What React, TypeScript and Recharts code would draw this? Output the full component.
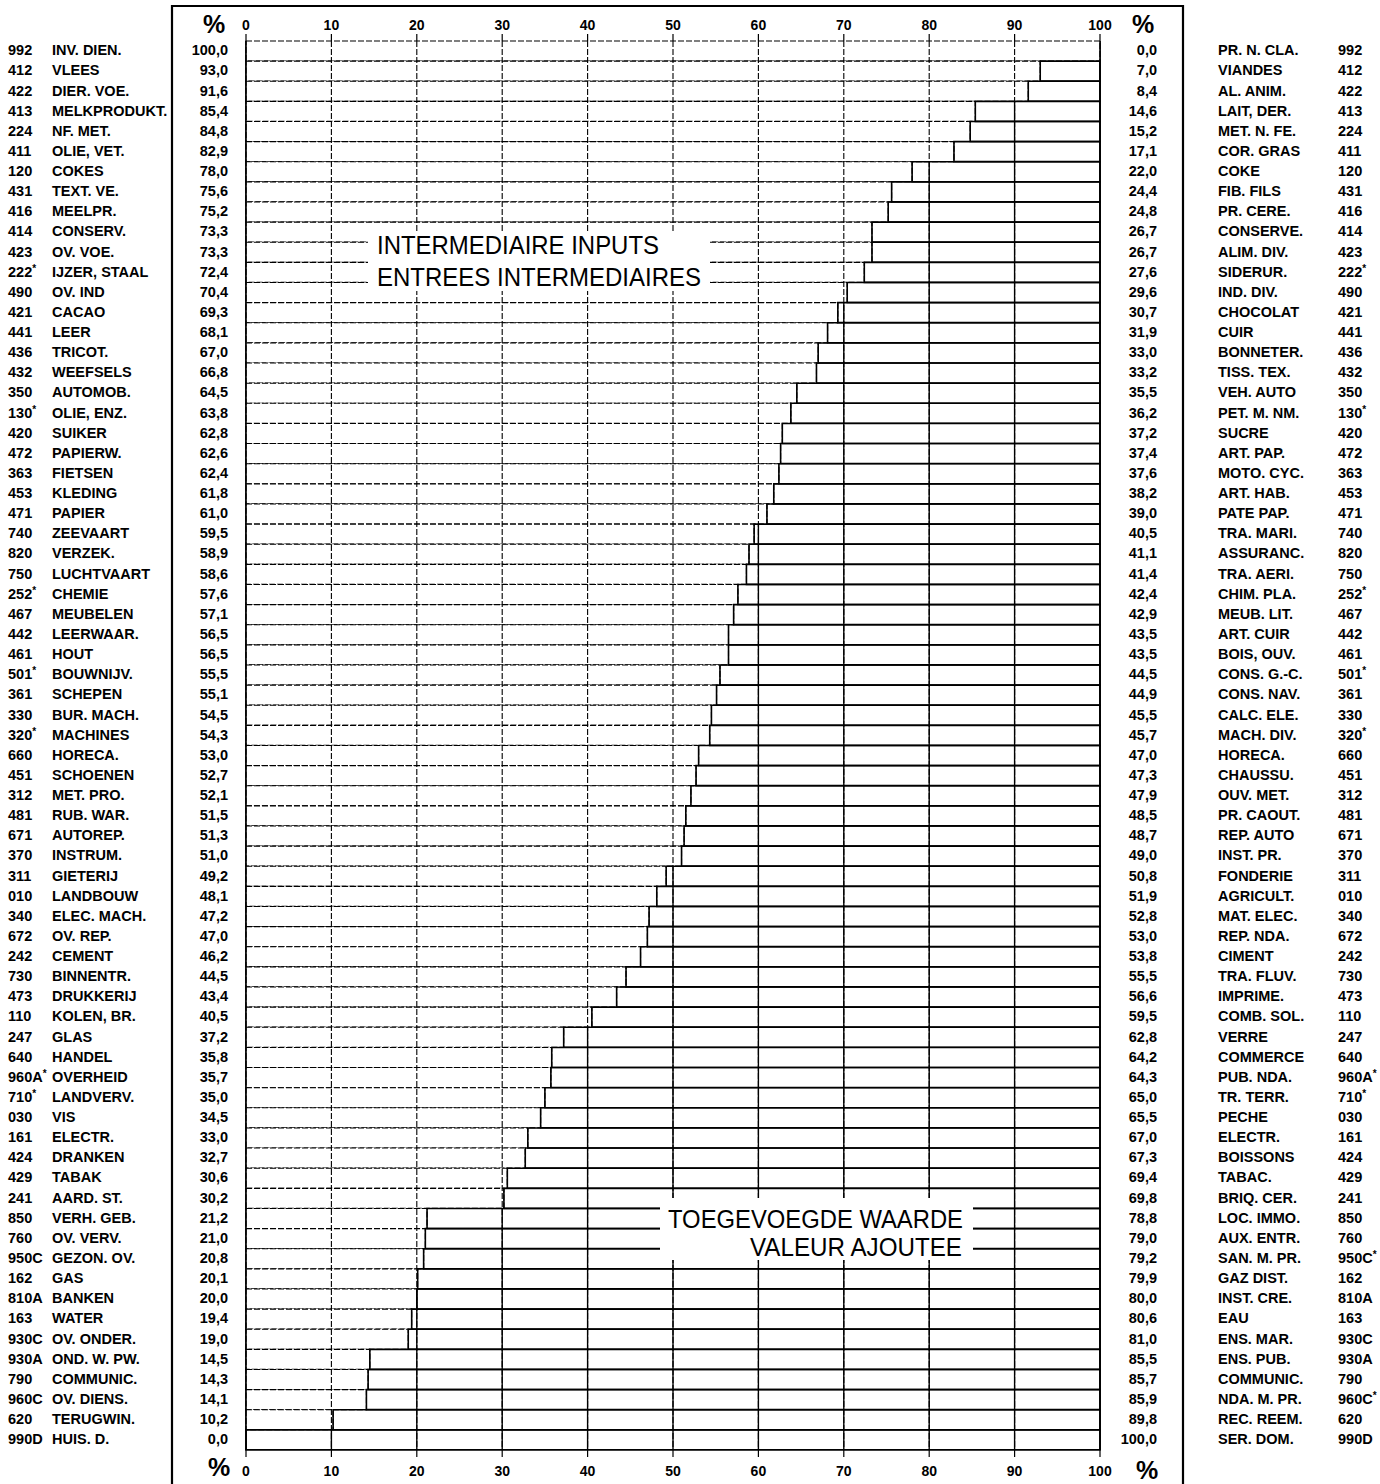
import React from 'react';
import { ComposedChart, Bar, Line, XAxis, YAxis, CartesianGrid, ReferenceLine } from 'recharts';

const leftCodes = ["992","412","422","413","224","411","120","431","416","414","423","222*","490","421","441","436","432","350","130*","420","472","363","453","471","740","820","750","252*","467","442","461","501*","361","330","320*","660","451","312","481","671","370","311","010","340","672","242","730","473","110","247","640","960A*","710*","030","161","424","429","241","850","760","950C","162","810A","163","930C","930A","790","960C","620","990D"];

const rightCodes = ["992","412","422","413","224","411","120","431","416","414","423","222*","490","421","441","436","432","350","130*","420","472","363","453","471","740","820","750","252*","467","442","461","501*","361","330","320*","660","451","312","481","671","370","311","010","340","672","242","730","473","110","247","640","960A*","710*","030","161","424","429","241","850","760","950C*","162","810A","163","930C","930A","790","960C*","620","990D"];

const dutchNames = ["INV. DIEN.","VLEES","DIER. VOE.","MELKPRODUKT.","NF. MET.","OLIE, VET.","COKES","TEXT. VE.","MEELPR.","CONSERV.","OV. VOE.","IJZER, STAAL","OV. IND","CACAO","LEER","TRICOT.","WEEFSELS","AUTOMOB.","OLIE, ENZ.","SUIKER","PAPIERW.","FIETSEN","KLEDING","PAPIER","ZEEVAART","VERZEK.","LUCHTVAART","CHEMIE","MEUBELEN","LEERWAAR.","HOUT","BOUWNIJV.","SCHEPEN","BUR. MACH.","MACHINES","HORECA.","SCHOENEN","MET. PRO.","RUB. WAR.","AUTOREP.","INSTRUM.","GIETERIJ","LANDBOUW","ELEC. MACH.","OV. REP.","CEMENT","BINNENTR.","DRUKKERIJ","KOLEN, BR.","GLAS","HANDEL","OVERHEID","LANDVERV.","VIS","ELECTR.","DRANKEN","TABAK","AARD. ST.","VERH. GEB.","OV. VERV.","GEZON. OV.","GAS","BANKEN","WATER","OV. ONDER.","OND. W. PW.","COMMUNIC.","OV. DIENS.","TERUGWIN.","HUIS. D."];

const frenchNames = ["PR. N. CLA.","VIANDES","AL. ANIM.","LAIT, DER.","MET. N. FE.","COR. GRAS","COKE","FIB. FILS","PR. CERE.","CONSERVE.","ALIM. DIV.","SIDERUR.","IND. DIV.","CHOCOLAT","CUIR","BONNETER.","TISS. TEX.","VEH. AUTO","PET. M. NM.","SUCRE","ART. PAP.","MOTO. CYC.","ART. HAB.","PATE PAP.","TRA. MARI.","ASSURANC.","TRA. AERI.","CHIM. PLA.","MEUB. LIT.","ART. CUIR","BOIS, OUV.","CONS. G.-C.","CONS. NAV.","CALC. ELE.","MACH. DIV.","HORECA.","CHAUSSU.","OUV. MET.","PR. CAOUT.","REP. AUTO","INST. PR.","FONDERIE","AGRICULT.","MAT. ELEC.","REP. NDA.","CIMENT","TRA. FLUV.","IMPRIME.","COMB. SOL.","VERRE","COMMERCE","PUB. NDA.","TR. TERR.","PECHE","ELECTR.","BOISSONS","TABAC.","BRIQ. CER.","LOC. IMMO.","AUX. ENTR.","SAN. M. PR.","GAZ DIST.","INST. CRE.","EAU","ENS. MAR.","ENS. PUB.","COMMUNIC.","NDA. M. PR.","REC. REEM.","SER. DOM."];

const inputShares = [100.0,93.0,91.6,85.4,84.8,82.9,78.0,75.6,75.2,73.3,73.3,72.4,70.4,69.3,68.1,67.0,66.8,64.5,63.8,62.8,62.6,62.4,61.8,61.0,59.5,58.9,58.6,57.6,57.1,56.5,56.5,55.5,55.1,54.5,54.3,53.0,52.7,52.1,51.5,51.3,51.0,49.2,48.1,47.2,47.0,46.2,44.5,43.4,40.5,37.2,35.8,35.7,35.0,34.5,33.0,32.7,30.6,30.2,21.2,21.0,20.8,20.1,20.0,19.4,19.0,14.5,14.3,14.1,10.2,0.0];

const addedShares = [0.0,7.0,8.4,14.6,15.2,17.1,22.0,24.4,24.8,26.7,26.7,27.6,29.6,30.7,31.9,33.0,33.2,35.5,36.2,37.2,37.4,37.6,38.2,39.0,40.5,41.1,41.4,42.4,42.9,43.5,43.5,44.5,44.9,45.5,45.7,47.0,47.3,47.9,48.5,48.7,49.0,50.8,51.9,52.8,53.0,53.8,55.5,56.6,59.5,62.8,64.2,64.3,65.0,65.5,67.0,67.3,69.4,69.8,78.8,79.0,79.2,79.9,80.0,80.6,81.0,85.5,85.7,85.9,89.8,100.0];

const xTicks = [0, 10, 20, 30, 40, 50, 60, 70, 80, 90, 100];
const innerGrid = [10, 20, 30, 40, 50, 60, 70, 80, 90];

const data = inputShares.map((v, i) => ({ idx: i, inputs: v, added: addedShares[i] }));

const FONT = '"Liberation Sans", Arial, Helvetica, sans-serif';
const fmt = (v: number) => v.toFixed(1).replace('.', ',');

function Code({ x, y, code }: { x: number; y: number; code: string }) {
  const star = code.endsWith('*');
  const base = star ? code.slice(0, -1) : code;
  return (
    <text x={x} y={y} dy="0.36em" fill="#000">
      {base}
      {star ? <tspan dy={-5} fontSize={10}>*</tspan> : null}
    </text>
  );
}

function RowTick(props: any) {
  const { y, payload } = props;
  const i = Number(payload.value);
  const yy = y - 1;
  return (
    <g fontFamily={FONT} fontWeight="bold" fontSize={14.5}>
      <Code x={8} y={yy} code={leftCodes[i]} />
      <text x={52} y={yy} dy="0.36em" fill="#000">{dutchNames[i]}</text>
      <text x={228} y={yy} dy="0.36em" fill="#000" textAnchor="end">{fmt(inputShares[i])}</text>
      <text x={1157} y={yy} dy="0.36em" fill="#000" textAnchor="end">{fmt(addedShares[i])}</text>
      <text x={1218} y={yy} dy="0.36em" fill="#000">{frenchNames[i]}</text>
      <Code x={1338} y={yy} code={rightCodes[i]} />
    </g>
  );
}

const tickStyle = { fontSize: 14, fontWeight: 'bold', fill: '#000', fontFamily: FONT };

export default function App() {
  return (
    <div style={{ position: 'absolute', left: 0, top: 0, width: 1380, height: 1484, background: '#fff' }}>
      <ComposedChart
        width={1380}
        height={1484}
        data={data}
        layout="vertical"
        margin={{ top: 40, right: 280, bottom: 33, left: 245 }}
        barCategoryGap={0}
        barGap={0}
      >
        <CartesianGrid xAxisId="top" horizontal={false} vertical stroke="#000" strokeWidth={1.4} />
        <XAxis
          xAxisId="top"
          orientation="top"
          type="number"
          domain={[0, 100]}
          ticks={xTicks}
          interval={0}
          height={1}
          tickSize={7}
          tickMargin={4}
          axisLine={false}
          tickLine={{ stroke: '#000', strokeWidth: 1.2 }}
          tick={tickStyle}
        />
        <XAxis
          xAxisId="bottom"
          orientation="bottom"
          type="number"
          domain={[0, 100]}
          ticks={xTicks}
          interval={0}
          height={1}
          tickSize={7}
          tickMargin={9}
          axisLine={false}
          tickLine={{ stroke: '#000', strokeWidth: 1.2 }}
          tick={tickStyle}
        />
        <YAxis
          type="category"
          dataKey="idx"
          width={1}
          interval={0}
          axisLine={false}
          tickLine={false}
          tick={<RowTick />}
        />
        <Bar
          xAxisId="top"
          dataKey="inputs"
          stackId="s"
          fill="#fff"
          stroke="#000"
          strokeWidth={1.1}
          strokeDasharray="6 2"
          isAnimationActive={false}
        />
        <Bar
          xAxisId="top"
          dataKey="added"
          stackId="s"
          fill="none"
          stroke="#000"
          strokeWidth={1.6}
          isAnimationActive={false}
        />
        <Line
          xAxisId="bottom"
          dataKey="inputs"
          stroke="none"
          strokeOpacity={0}
          dot={false}
          activeDot={false}
          legendType="none"
          isAnimationActive={false}
        />
        {innerGrid.map((t) => (
          <ReferenceLine key={t} xAxisId="top" x={t} stroke="#000" strokeWidth={1.1} strokeDasharray="6 2" />
        ))}
        <ReferenceLine xAxisId="top" x={0} stroke="#000" strokeWidth={1.6} />
        <ReferenceLine xAxisId="top" x={100} stroke="#000" strokeWidth={1.6} />
      </ComposedChart>
      <svg
        width={1380}
        height={1484}
        style={{ position: 'absolute', left: 0, top: 0, pointerEvents: 'none' }}
      >
        <line x1={172} y1={5} x2={172} y2={1484} stroke="#000" strokeWidth={2.2} />
        <line x1={1183} y1={5} x2={1183} y2={1484} stroke="#000" strokeWidth={2.2} />
        <line x1={171} y1={6} x2={1184} y2={6} stroke="#000" strokeWidth={2} />
        <g fontFamily={FONT} fontWeight="bold" fontSize={25} fill="#000">
          <text x={203} y={33}>%</text>
          <text x={1132} y={33}>%</text>
          <text x={208} y={1476}>%</text>
          <text x={1136} y={1479}>%</text>
        </g>
        <rect x={368} y={231} width={342} height={60} fill="#fff" />
        <rect x={660} y={1198} width={313} height={62} fill="#fff" />
        <g fontFamily={FONT} fontSize={25} fill="#000">
          <text x={377} y={254} textLength={282} lengthAdjust="spacingAndGlyphs">INTERMEDIAIRE INPUTS</text>
          <text x={377} y={286} textLength={324} lengthAdjust="spacingAndGlyphs">ENTREES INTERMEDIAIRES</text>
          <text x={668} y={1228} textLength={295} lengthAdjust="spacingAndGlyphs">TOEGEVOEGDE WAARDE</text>
          <text x={750} y={1256} textLength={212} lengthAdjust="spacingAndGlyphs">VALEUR AJOUTEE</text>
        </g>
      </svg>
    </div>
  );
}
